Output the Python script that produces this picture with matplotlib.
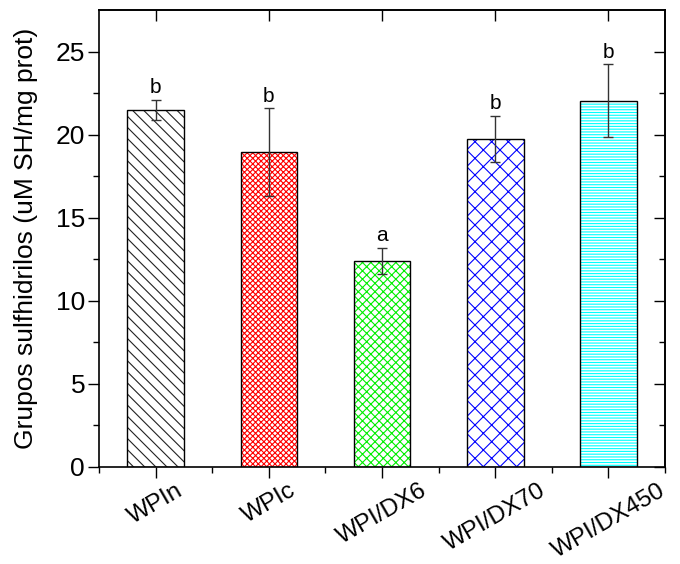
import numpy as np
import matplotlib
matplotlib.use("Agg")
import matplotlib.pyplot as plt

# data
samples = ['WPIn', 'WPIc', 'WPI/DX6', 'WPI/DX70', 'WPI/DX450']
sh_mean = [21.5, 18.95, 12.4, 19.75, 22.05]
sh_err = [0.6, 2.65, 0.8, 1.4, 2.2]
letters = ['b', 'b', 'a', 'b', 'b']
colors = ['#222222', 'red', '#00ee00', 'blue', 'cyan']
hatches = ['\\\\\\', 'xxxxxx', 'xxxx', 'xx', '------']

plt.rcParams['font.family'] = ['Liberation Sans', 'DejaVu Sans']
plt.rcParams['hatch.linewidth'] = 0.8

fig = plt.figure(figsize=(6.8, 5.64), dpi=100)
ax = fig.add_axes([0.1456, 0.172, 0.8324, 0.81])

x = np.arange(1, len(samples) + 1)

# hatch drawn in series colour, outline in black on top
for xi, v, c, h in zip(x, sh_mean, colors, hatches):
    ax.bar(xi, v, width=0.5, color='white', edgecolor=c, hatch=h, linewidth=0)
    ax.bar(xi, v, width=0.5, fill=False, edgecolor='black', linewidth=1.0)

ax.errorbar(x, sh_mean, yerr=sh_err, fmt='none', ecolor='#333333',
            elinewidth=1.0, capsize=3.5, capthick=1.0)

for xi, v, e, lab in zip(x, sh_mean, sh_err, letters):
    ax.text(xi, v + e + 0.15, lab, ha='center', va='bottom', fontsize=15)

ax.set_xlim(0.5, 5.5)
ax.set_ylim(0, 27.5)
ax.set_yticks([0, 5, 10, 15, 20, 25])
ax.set_yticks(np.arange(0, 27.5, 2.5), minor=True)
ax.set_xticks(x)
ax.set_xticks(np.arange(0.5, 5.6, 0.5), minor=True)
ax.set_xticklabels(samples, rotation=30, ha='center', fontsize=17.5)

ax.tick_params(axis='y', which='major', labelsize=19, direction='out', length=8, width=1, pad=2)
ax.tick_params(axis='y', which='minor', direction='out', length=4, width=1)
ax.tick_params(axis='x', which='major', direction='out', length=8, width=1, pad=1)
ax.tick_params(axis='x', which='minor', direction='out', length=4, width=1)

# inward ticks on the right and top
ax2 = ax.secondary_yaxis('right')
ax2.set_yticks([0, 5, 10, 15, 20, 25])
ax2.set_yticks(np.arange(0, 27.5, 2.5), minor=True)
ax2.tick_params(which='major', direction='in', length=8, width=1, labelright=False)
ax2.tick_params(which='minor', direction='in', length=4, width=1)
ax3 = ax.secondary_xaxis('top')
ax3.set_xticks(x)
ax3.tick_params(direction='in', length=8, width=1, labeltop=False)

ax.set_ylabel('Grupos sulfhidrilos (uM SH/mg prot)', fontsize=19)
ax.yaxis.set_label_coords(-0.108, 0.5)
for s in ax.spines.values():
    s.set_linewidth(1.2)
ax2.spines['right'].set_linewidth(1.2)
ax3.spines['top'].set_linewidth(1.2)

fig.savefig('out.png', dpi=100)
